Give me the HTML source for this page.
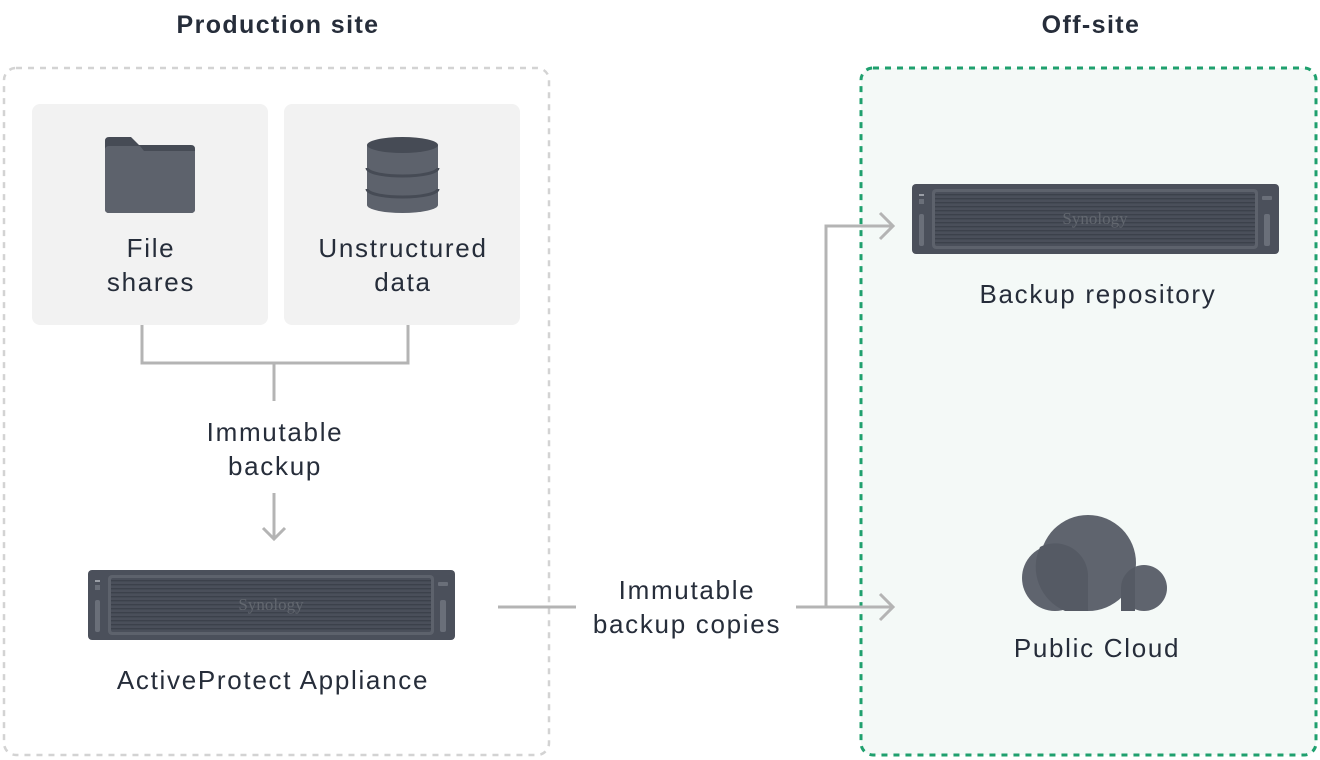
<!DOCTYPE html>
<html><head><meta charset="utf-8"><style>
html,body{margin:0;padding:0;background:#fff}
svg{display:block}
text{font-family:"Liberation Sans",sans-serif;fill:#262d3a;font-size:26px;letter-spacing:1.7px}
</style></head><body>
<svg width="1320" height="760" viewBox="0 0 1320 760">
<defs>
<pattern id="grill" width="4" height="4" patternUnits="userSpaceOnUse"><rect width="4" height="4" fill="#4a4f5a"/><rect width="4" height="1.4" y="2" fill="#3c414b"/></pattern>
<g id="srv">
<rect x="0" y="0" width="367" height="70" rx="4" fill="#4b505b"/>
<rect x="20" y="5" width="326" height="60" rx="4" fill="#5d626c"/>
<rect x="23" y="8" width="320" height="54" rx="2" fill="url(#grill)"/>
<text x="183" y="40" text-anchor="middle" style="font-size:17px;letter-spacing:0;fill:#62676f;font-family:'Liberation Serif',serif">Synology</text>
<rect x="7" y="10" width="5" height="2" fill="#9a9ea6"/>
<rect x="7" y="15" width="5" height="5" fill="#6a6f79"/>
<rect x="7" y="30" width="5" height="32" rx="2" fill="#6a6f79"/>
<rect x="350" y="12" width="10" height="4" rx="1" fill="#6a6f79"/>
<rect x="352" y="30" width="6" height="32" rx="2" fill="#6a6f79"/>
</g>
</defs>
<text x="278" y="33" text-anchor="middle" style="font-size:25px;letter-spacing:1.4px" font-weight="bold">Production site</text>
<text x="1091" y="33" text-anchor="middle" style="font-size:25px;letter-spacing:1.4px" font-weight="bold">Off-site</text>
<rect x="4" y="68" width="545" height="687" rx="12" fill="none" stroke="#d3d3d3" stroke-width="2.5" stroke-dasharray="6 6"/>
<rect x="861" y="68" width="455" height="687" rx="12" fill="#f4f9f7" stroke="#1fa06e" stroke-width="3" stroke-dasharray="6 6"/>
<rect x="32" y="104" width="236" height="221" rx="8" fill="#f2f2f2"/>
<rect x="284" y="104" width="236" height="221" rx="8" fill="#f2f2f2"/>
<path d="M105 141 q0-4 4-4 h22 l8 8 h52 q4 0 4 4 v60 q0 4-4 4 h-82 q-4 0-4-4z" fill="#464b55"/>
<path d="M105 150 q0-4 4-4 h31 l4 5 h51 v58 q0 4-4 4 h-82 q-4 0-4-4z" fill="#5d626c"/>
<path d="M367 145 v60 a35.5 8 0 0 0 71 0 v-60z" fill="#5d626c"/>
<ellipse cx="402.5" cy="145" rx="35.5" ry="8" fill="#464b55"/>
<path d="M367 168 a35.5 8 0 0 0 71 0 M367 189 a35.5 8 0 0 0 71 0" fill="none" stroke="#464b55" stroke-width="3"/>
<text x="151" y="257" text-anchor="middle">File</text>
<text x="151" y="291" text-anchor="middle">shares</text>
<text x="403" y="257" text-anchor="middle">Unstructured</text>
<text x="403" y="291" text-anchor="middle">data</text>
<g fill="none" stroke="#b4b4b4" stroke-width="3">
<path d="M142 325 v38 h266 v-38 M274 363 v38"/>
<path d="M274 493 v45 M263 528 l11 11 l11 -11"/>
<path d="M498 607 h78 M796 607 h96 M826 607 v-381 h66"/>
<path d="M880 594 l13 13 l-13 13 M880 213 l13 13 l-13 13"/>
</g>
<text x="275" y="441" text-anchor="middle">Immutable</text>
<text x="275" y="475" text-anchor="middle">backup</text>
<use href="#srv" x="88" y="570"/>
<text x="273" y="689" text-anchor="middle">ActiveProtect Appliance</text>
<text x="687" y="599" text-anchor="middle">Immutable</text>
<text x="687" y="633" text-anchor="middle">backup copies</text>
<use href="#srv" x="912" y="184"/>
<text x="1098" y="303" text-anchor="middle">Backup repository</text>
<g>
<clipPath id="cb"><rect x="1000" y="500" width="200" height="111"/></clipPath>
<g clip-path="url(#cb)">
<circle cx="1088" cy="563" r="48" fill="#5f646e"/>
<circle cx="1055" cy="578" r="33" fill="#5f646e"/>
<circle cx="1144" cy="588" r="23" fill="#5f646e"/>
<path d="M1040 547 a33 33 0 0 1 48 31 v33 h-23 a48 48 0 0 1 -25 -64z" fill="#555a64"/>
<path d="M1121 611 v-23 a23 23 0 0 1 14 -21 v44z" fill="#555a64"/>
</g>
</g>
<text x="1097" y="657" text-anchor="middle">Public Cloud</text>
</svg>
</body></html>
